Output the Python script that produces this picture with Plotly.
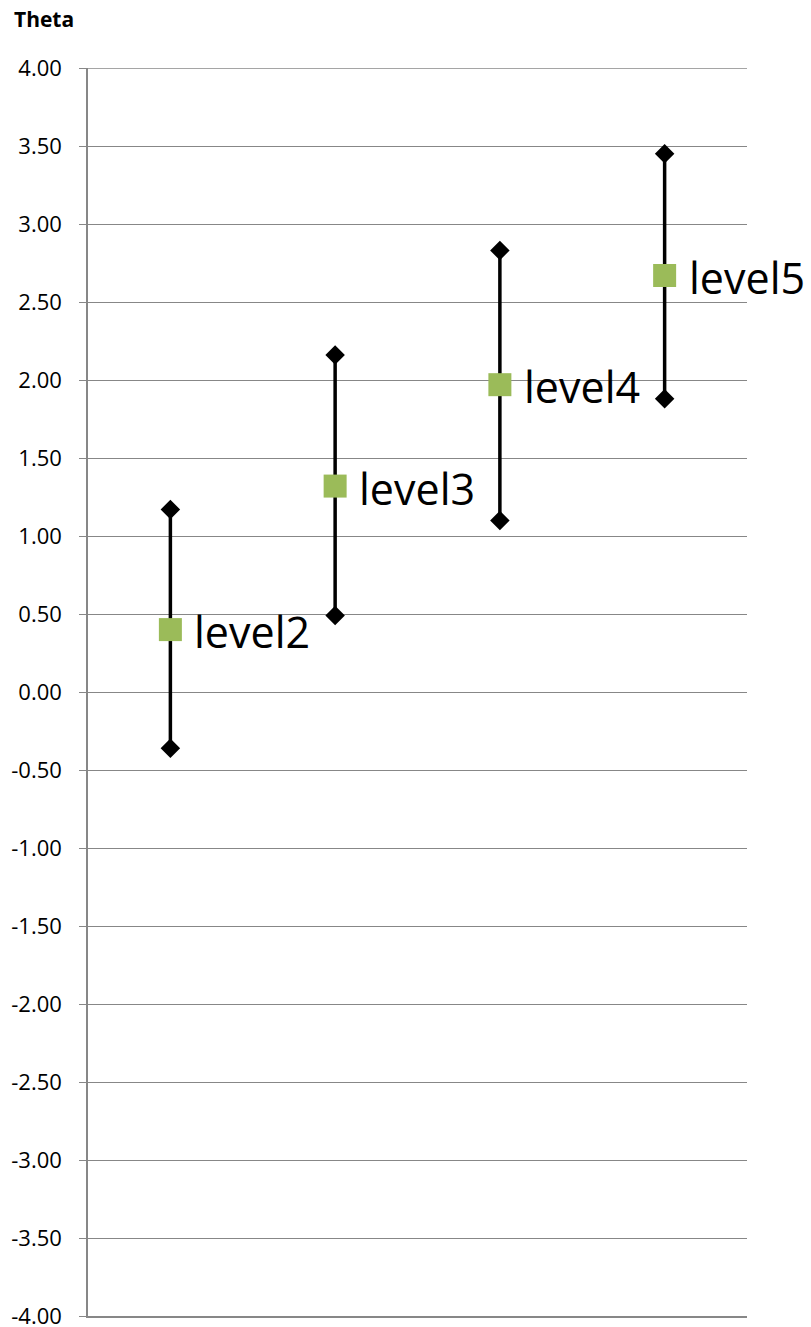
import plotly.graph_objects as go

categories = ["level2", "level3", "level4", "level5"]
theta = [0.40, 1.32, 1.97, 2.67]
upper = [1.17, 2.16, 2.83, 3.45]
lower = [-0.36, 0.49, 1.10, 1.88]
tick_vals = [-4.0, -3.5, -3.0, -2.5, -2.0, -1.5, -1.0, -0.5, 0.0, 0.5, 1.0, 1.5, 2.0, 2.5, 3.0, 3.5, 4.0]
tick_text = [f"{v:.2f}" for v in tick_vals]

xpos = list(range(len(categories)))
err_plus = [u - c for u, c in zip(upper, theta)]
err_minus = [c - l for c, l in zip(theta, lower)]

fig = go.Figure()
# caps (diamonds)
fig.add_trace(go.Scatter(
    x=xpos + xpos, y=upper + lower, mode="markers",
    marker=dict(symbol="diamond", size=15, color="black"),
    hoverinfo="skip", showlegend=False))
# main points with error bars
fig.add_trace(go.Scatter(
    x=xpos, y=theta, mode="markers",
    marker=dict(symbol="square", size=23, color="#9BBB59"),
    error_y=dict(type="data", symmetric=False, array=err_plus, arrayminus=err_minus,
                 color="black", thickness=3.5, width=0),
    showlegend=False))

annotations = [dict(text=c, x=xv, y=yv, xref="x", yref="y", xanchor="left", yanchor="middle",
                    xshift=22, yshift=-2, showarrow=False,
                    font=dict(family="Open Sans", size=43, color="black"))
               for c, xv, yv in zip(categories, xpos, theta)]

L, R, T, B = 88, 747, 68, 1316
W, H = 811, 1327
grid_col = "#878787"
annotations.append(dict(text="<b>Theta</b>", xref="paper", yref="paper",
                        x=(12 - L) / (R - L), y=1 + (T - 19) / (B - T),
                        xanchor="left", yanchor="middle", showarrow=False,
                        font=dict(family="Open Sans", size=21, color="black")))

fig.update_layout(
    width=W, height=H,
    margin=dict(l=L, r=W - R, t=T, b=H - B, autoexpand=False),
    paper_bgcolor="white", plot_bgcolor="white",
    xaxis=dict(range=[-0.5, 3.5], showgrid=False, zeroline=False, showticklabels=False,
               showline=True, linecolor=grid_col, linewidth=1.5, ticks="", automargin=False),
    yaxis=dict(range=[-4, 4], tickvals=tick_vals, ticktext=tick_text,
               showgrid=True, gridcolor=grid_col, gridwidth=1.3, zeroline=False,
               showline=True, linecolor=grid_col, linewidth=1.5,
               ticks="outside", ticklen=7, tickcolor=grid_col, tickwidth=1.3,
               ticklabelstandoff=13, ticklabeloverflow="allow", automargin=False,
               tickfont=dict(family="Open Sans", size=22, color="black")),
    shapes=[dict(type="line", xref="paper", yref="y", x0=0, x1=1, y0=tick_vals[-1], y1=tick_vals[-1],
                 line=dict(color=grid_col, width=1.3), layer="below")],
    annotations=annotations,
)

fig.write_html("out.html", config={"displayModeBar": False},
               post_script="document.body.style.margin='0';document.body.style.overflow='hidden';")
